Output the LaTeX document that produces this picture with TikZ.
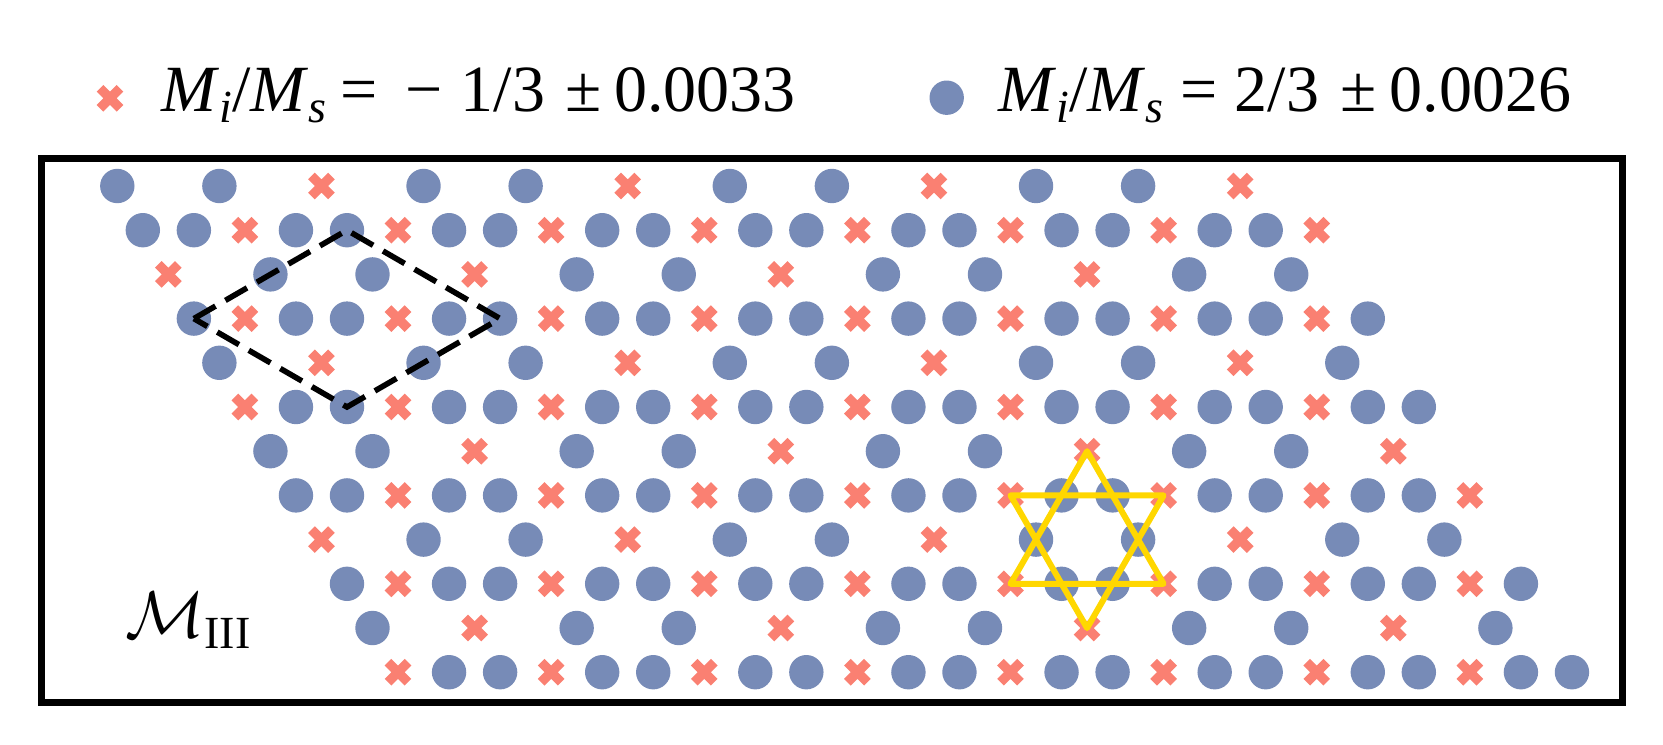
\RequirePackage{fix-cm}
\documentclass[tikz,border=0pt]{standalone}
\usepackage{fontspec}
\setmainfont{Liberation Serif}
\definecolor{bluec}{RGB}{119,139,183}
\definecolor{redc}{RGB}{250,128,114}
\definecolor{goldc}{RGB}{255,215,0}
\newcommand{\msub}[1]{\raisebox{-0.16em}{\fontsize{23}{0}\selectfont\textit{#1}}}
\tikzset{
  redx/.pic={\fill[redc,rotate=45] (-4.72,-14.15)--(-4.72,-4.72)--(-14.15,-4.72)--(-14.15,4.72)--(-4.72,4.72)--(-4.72,14.15)--(4.72,14.15)--(4.72,4.72)--(14.15,4.72)--(14.15,-4.72)--(4.72,-4.72)--(4.72,-14.15)--cycle;},
  bluedot/.style={fill=bluec},
  legtext/.style={anchor=base west,inner sep=0pt,font=\fontsize{33}{40}\selectfont},
  frame/.style={draw=black,line width=3.6pt},
  cell/.style={draw=black,line width=2.8pt,dash pattern=on 12.5pt off 5.7pt},
  star/.style={draw=goldc,line width=3pt,line join=round}
}
\begin{document}
\begin{tikzpicture}[x=0.5pt,y=-0.5pt]
\useasboundingbox (0,0) rectangle (1663,744);
% legend
\pic at (110,98.3) {redx};
\node[legtext] (lega) at (161,111.7) {\textit{M}\msub{i}/\textit{M}\msub{s}\hspace{0.22em}=\hspace{0.42em}−\hspace{0.27em}1/3\hspace{0.3em}±\hspace{0.2em}0.0033};
\fill[bluedot] (946.7,97.7) circle[radius=17.2];
\node[legtext] (legb) at (998,111.7) {\textit{M}\msub{i}/\textit{M}\msub{s}\hspace{0.26em}=\hspace{0.26em}2/3\hspace{0.32em}±\hspace{0.2em}0.0026};
% frame
\draw[frame] (41.2,158.8) rectangle (1622.3,702.8);
% lattice
\foreach \r/\res in {1/2,2/2,3/0,4/1,5/1,6/0,7/2,8/2,9/0,10/1,11/1,12/0}{
  \pgfmathsetmacro{\yy}{186+44.2*(\r-1)}
  \pgfmathsetmacro{\xo}{117.3+25.52*(\r-1)}
  \ifodd\r \def\nk{11}\def\st{102.08}\else \def\nk{23}\def\st{51.04}\fi
  \foreach \k in {0,...,\nk}{
    \pgfmathsetmacro{\xx}{\xo+\st*\k}
    \pgfmathtruncatemacro{\m}{mod(\k,3)}
    \coordinate (s\r-\k) at (\xx,\yy);
    \ifnum\m=\res\relax
      \pic at (s\r-\k) {redx};
    \else
      \fill[bluedot] (s\r-\k) circle[radius=17.2];
    \fi
  }
}
% magnetic unit cell
\draw[cell] (s4-0) -- (s2-4) -- (s4-6) -- (s6-2) -- cycle;
% star
\draw[star] (s7-8) -- (s10-13) -- (s10-16) -- cycle;
\draw[star] (s8-14) -- (s8-17) -- (s11-7) -- cycle;
% label
\node[legtext] (lab) at (125,637) {$\mathcal{M}$\raisebox{-0.17em}{\fontsize{23}{0}\selectfont III}};
\end{tikzpicture}
\end{document}
